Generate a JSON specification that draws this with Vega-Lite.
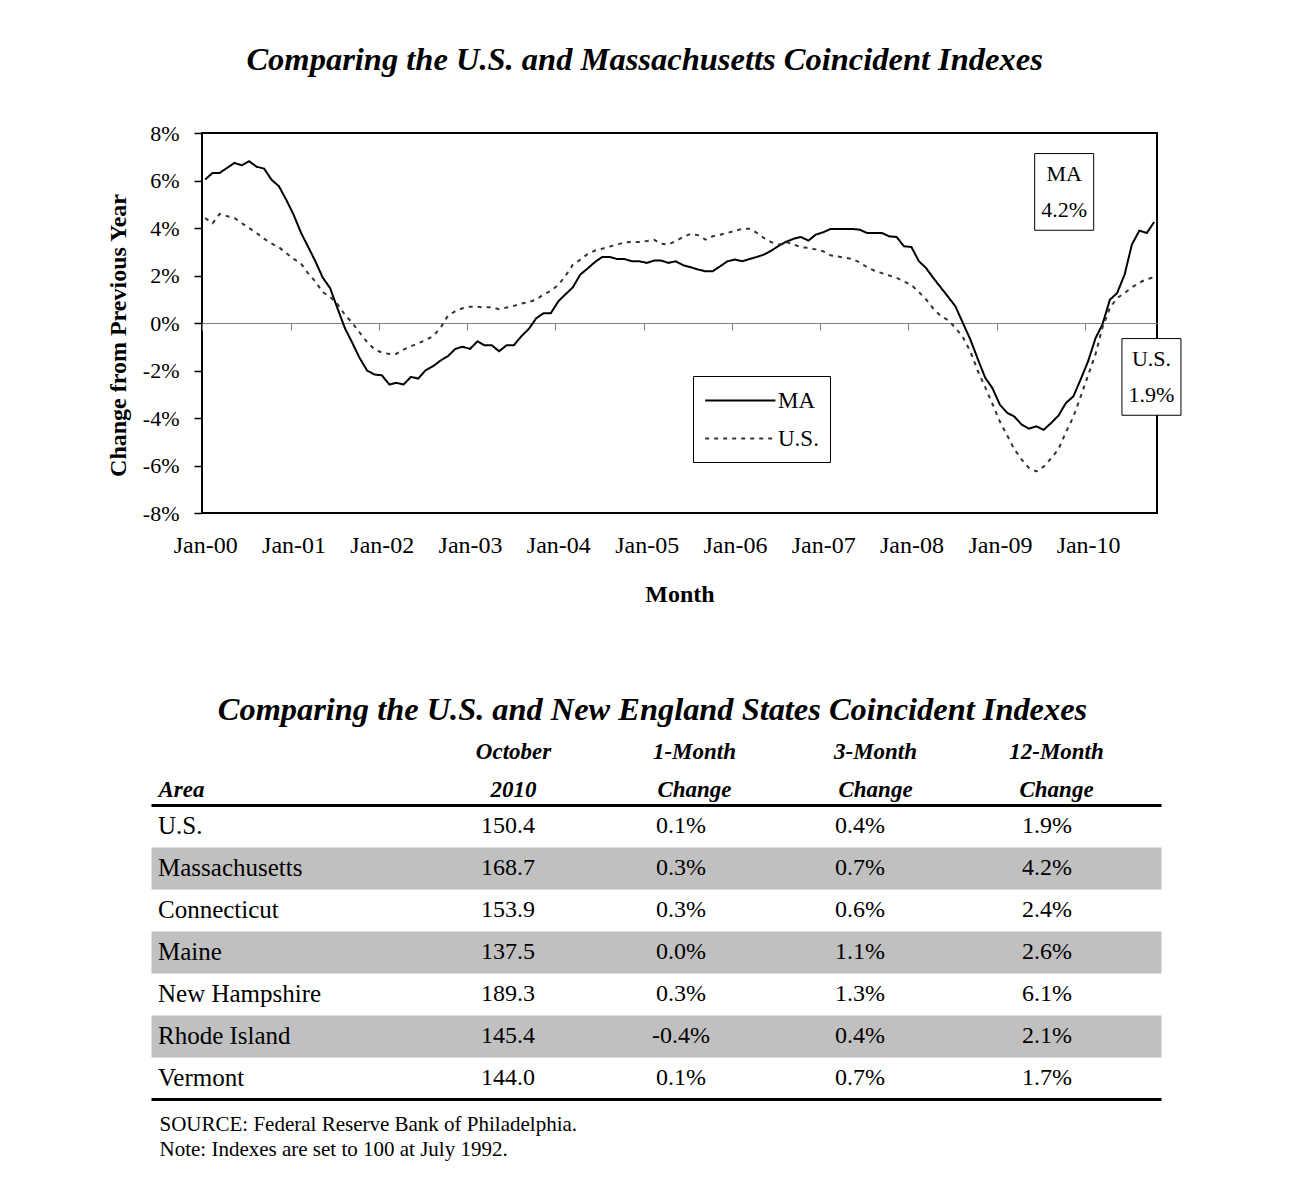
{
  "$schema": "https://vega.github.io/schema/vega-lite/v6.json",
  "background": "white",
  "padding": {"left": 105, "top": 42, "right": 5, "bottom": 5},
  "spacing": 86,
  "config": {
    "font": "Liberation Serif",
    "view": {"stroke": null},
    "locale": {"number": {"decimal": ".", "thousands": ",", "grouping": [3], "currency": ["$", ""], "minus": "-"}},
    "axis": {"labelColor": "black", "titleColor": "black", "domainColor": "black", "tickColor": "black"},
    "title": {"color": "black"}
  },
  "datasets": {
    "series": [
      {"series":"MA","date":"2000-01","value":6.04},{"series":"MA","date":"2000-02","value":6.32},{"series":"MA","date":"2000-03","value":6.32},{"series":"MA","date":"2000-04","value":6.53},{"series":"MA","date":"2000-05","value":6.74},{"series":"MA","date":"2000-06","value":6.64},{"series":"MA","date":"2000-07","value":6.81},{"series":"MA","date":"2000-08","value":6.58},{"series":"MA","date":"2000-09","value":6.5},{"series":"MA","date":"2000-10","value":6.04},{"series":"MA","date":"2000-11","value":5.76},{"series":"MA","date":"2000-12","value":5.2},
      {"series":"MA","date":"2001-01","value":4.56},{"series":"MA","date":"2001-02","value":3.79},{"series":"MA","date":"2001-03","value":3.23},{"series":"MA","date":"2001-04","value":2.6},{"series":"MA","date":"2001-05","value":1.92},{"series":"MA","date":"2001-06","value":1.47},{"series":"MA","date":"2001-07","value":0.63},{"series":"MA","date":"2001-08","value":-0.21},{"series":"MA","date":"2001-09","value":-0.84},{"series":"MA","date":"2001-10","value":-1.47},{"series":"MA","date":"2001-11","value":-2.0},{"series":"MA","date":"2001-12","value":-2.17},
      {"series":"MA","date":"2002-01","value":-2.2},{"series":"MA","date":"2002-02","value":-2.59},{"series":"MA","date":"2002-03","value":-2.52},{"series":"MA","date":"2002-04","value":-2.59},{"series":"MA","date":"2002-05","value":-2.27},{"series":"MA","date":"2002-06","value":-2.34},{"series":"MA","date":"2002-07","value":-1.99},{"series":"MA","date":"2002-08","value":-1.82},{"series":"MA","date":"2002-09","value":-1.58},{"series":"MA","date":"2002-10","value":-1.4},{"series":"MA","date":"2002-11","value":-1.09},{"series":"MA","date":"2002-12","value":-1.0},
      {"series":"MA","date":"2003-01","value":-1.09},{"series":"MA","date":"2003-02","value":-0.77},{"series":"MA","date":"2003-03","value":-0.94},{"series":"MA","date":"2003-04","value":-0.94},{"series":"MA","date":"2003-05","value":-1.19},{"series":"MA","date":"2003-06","value":-0.94},{"series":"MA","date":"2003-07","value":-0.94},{"series":"MA","date":"2003-08","value":-0.56},{"series":"MA","date":"2003-09","value":-0.25},{"series":"MA","date":"2003-10","value":0.19},{"series":"MA","date":"2003-11","value":0.41},{"series":"MA","date":"2003-12","value":0.41},
      {"series":"MA","date":"2004-01","value":0.91},{"series":"MA","date":"2004-02","value":1.22},{"series":"MA","date":"2004-03","value":1.5},{"series":"MA","date":"2004-04","value":2.04},{"series":"MA","date":"2004-05","value":2.29},{"series":"MA","date":"2004-06","value":2.57},{"series":"MA","date":"2004-07","value":2.78},{"series":"MA","date":"2004-08","value":2.78},{"series":"MA","date":"2004-09","value":2.69},{"series":"MA","date":"2004-10","value":2.69},{"series":"MA","date":"2004-11","value":2.6},{"series":"MA","date":"2004-12","value":2.6},
      {"series":"MA","date":"2005-01","value":2.53},{"series":"MA","date":"2005-02","value":2.63},{"series":"MA","date":"2005-03","value":2.63},{"series":"MA","date":"2005-04","value":2.53},{"series":"MA","date":"2005-05","value":2.6},{"series":"MA","date":"2005-06","value":2.43},{"series":"MA","date":"2005-07","value":2.35},{"series":"MA","date":"2005-08","value":2.25},{"series":"MA","date":"2005-09","value":2.18},{"series":"MA","date":"2005-10","value":2.18},{"series":"MA","date":"2005-11","value":2.39},{"series":"MA","date":"2005-12","value":2.6},
      {"series":"MA","date":"2006-01","value":2.67},{"series":"MA","date":"2006-02","value":2.6},{"series":"MA","date":"2006-03","value":2.69},{"series":"MA","date":"2006-04","value":2.78},{"series":"MA","date":"2006-05","value":2.88},{"series":"MA","date":"2006-06","value":3.05},{"series":"MA","date":"2006-07","value":3.25},{"series":"MA","date":"2006-08","value":3.42},{"series":"MA","date":"2006-09","value":3.55},{"series":"MA","date":"2006-10","value":3.62},{"series":"MA","date":"2006-11","value":3.47},{"series":"MA","date":"2006-12","value":3.72},
      {"series":"MA","date":"2007-01","value":3.82},{"series":"MA","date":"2007-02","value":3.96},{"series":"MA","date":"2007-03","value":3.96},{"series":"MA","date":"2007-04","value":3.96},{"series":"MA","date":"2007-05","value":3.96},{"series":"MA","date":"2007-06","value":3.93},{"series":"MA","date":"2007-07","value":3.79},{"series":"MA","date":"2007-08","value":3.79},{"series":"MA","date":"2007-09","value":3.79},{"series":"MA","date":"2007-10","value":3.65},{"series":"MA","date":"2007-11","value":3.62},{"series":"MA","date":"2007-12","value":3.23},
      {"series":"MA","date":"2008-01","value":3.2},{"series":"MA","date":"2008-02","value":2.6},{"series":"MA","date":"2008-03","value":2.32},{"series":"MA","date":"2008-04","value":1.89},{"series":"MA","date":"2008-05","value":1.5},{"series":"MA","date":"2008-06","value":1.1},{"series":"MA","date":"2008-07","value":0.7},{"series":"MA","date":"2008-08","value":0.0},{"series":"MA","date":"2008-09","value":-0.7},{"series":"MA","date":"2008-10","value":-1.5},{"series":"MA","date":"2008-11","value":-2.3},{"series":"MA","date":"2008-12","value":-2.74},
      {"series":"MA","date":"2009-01","value":-3.44},{"series":"MA","date":"2009-02","value":-3.79},{"series":"MA","date":"2009-03","value":-3.93},{"series":"MA","date":"2009-04","value":-4.28},{"series":"MA","date":"2009-05","value":-4.45},{"series":"MA","date":"2009-06","value":-4.35},{"series":"MA","date":"2009-07","value":-4.5},{"series":"MA","date":"2009-08","value":-4.21},{"series":"MA","date":"2009-09","value":-3.89},{"series":"MA","date":"2009-10","value":-3.37},{"series":"MA","date":"2009-11","value":-3.09},{"series":"MA","date":"2009-12","value":-2.38},
      {"series":"MA","date":"2010-01","value":-1.61},{"series":"MA","date":"2010-02","value":-0.63},{"series":"MA","date":"2010-03","value":-0.07},{"series":"MA","date":"2010-04","value":0.98},{"series":"MA","date":"2010-05","value":1.26},{"series":"MA","date":"2010-06","value":2.04},{"series":"MA","date":"2010-07","value":3.3},{"series":"MA","date":"2010-08","value":3.89},{"series":"MA","date":"2010-09","value":3.79},{"series":"MA","date":"2010-10","value":4.25},
      {"series":"U.S.","date":"2000-01","value":4.42},{"series":"U.S.","date":"2000-02","value":4.2},{"series":"U.S.","date":"2000-03","value":4.59},{"series":"U.S.","date":"2000-04","value":4.5},{"series":"U.S.","date":"2000-05","value":4.42},{"series":"U.S.","date":"2000-06","value":4.2},{"series":"U.S.","date":"2000-07","value":4.0},{"series":"U.S.","date":"2000-08","value":3.79},{"series":"U.S.","date":"2000-09","value":3.55},{"series":"U.S.","date":"2000-10","value":3.35},{"series":"U.S.","date":"2000-11","value":3.19},{"series":"U.S.","date":"2000-12","value":2.95},
      {"series":"U.S.","date":"2001-01","value":2.7},{"series":"U.S.","date":"2001-02","value":2.5},{"series":"U.S.","date":"2001-03","value":2.1},{"series":"U.S.","date":"2001-04","value":1.75},{"series":"U.S.","date":"2001-05","value":1.3},{"series":"U.S.","date":"2001-06","value":1.1},{"series":"U.S.","date":"2001-07","value":0.8},{"series":"U.S.","date":"2001-08","value":0.35},{"series":"U.S.","date":"2001-09","value":0.0},{"series":"U.S.","date":"2001-10","value":-0.4},{"series":"U.S.","date":"2001-11","value":-0.8},{"series":"U.S.","date":"2001-12","value":-1.1},
      {"series":"U.S.","date":"2002-01","value":-1.25},{"series":"U.S.","date":"2002-02","value":-1.3},{"series":"U.S.","date":"2002-03","value":-1.3},{"series":"U.S.","date":"2002-04","value":-1.12},{"series":"U.S.","date":"2002-05","value":-0.98},{"series":"U.S.","date":"2002-06","value":-0.85},{"series":"U.S.","date":"2002-07","value":-0.72},{"series":"U.S.","date":"2002-08","value":-0.55},{"series":"U.S.","date":"2002-09","value":-0.2},{"series":"U.S.","date":"2002-10","value":0.3},{"series":"U.S.","date":"2002-11","value":0.5},{"series":"U.S.","date":"2002-12","value":0.62},
      {"series":"U.S.","date":"2003-01","value":0.68},{"series":"U.S.","date":"2003-02","value":0.68},{"series":"U.S.","date":"2003-03","value":0.66},{"series":"U.S.","date":"2003-04","value":0.66},{"series":"U.S.","date":"2003-05","value":0.58},{"series":"U.S.","date":"2003-06","value":0.65},{"series":"U.S.","date":"2003-07","value":0.72},{"series":"U.S.","date":"2003-08","value":0.82},{"series":"U.S.","date":"2003-09","value":0.88},{"series":"U.S.","date":"2003-10","value":0.98},{"series":"U.S.","date":"2003-11","value":1.2},{"series":"U.S.","date":"2003-12","value":1.35},
      {"series":"U.S.","date":"2004-01","value":1.6},{"series":"U.S.","date":"2004-02","value":2.0},{"series":"U.S.","date":"2004-03","value":2.45},{"series":"U.S.","date":"2004-04","value":2.67},{"series":"U.S.","date":"2004-05","value":2.9},{"series":"U.S.","date":"2004-06","value":3.05},{"series":"U.S.","date":"2004-07","value":3.13},{"series":"U.S.","date":"2004-08","value":3.22},{"series":"U.S.","date":"2004-09","value":3.3},{"series":"U.S.","date":"2004-10","value":3.4},{"series":"U.S.","date":"2004-11","value":3.41},{"series":"U.S.","date":"2004-12","value":3.41},
      {"series":"U.S.","date":"2005-01","value":3.45},{"series":"U.S.","date":"2005-02","value":3.5},{"series":"U.S.","date":"2005-03","value":3.34},{"series":"U.S.","date":"2005-04","value":3.3},{"series":"U.S.","date":"2005-05","value":3.45},{"series":"U.S.","date":"2005-06","value":3.62},{"series":"U.S.","date":"2005-07","value":3.75},{"series":"U.S.","date":"2005-08","value":3.7},{"series":"U.S.","date":"2005-09","value":3.51},{"series":"U.S.","date":"2005-10","value":3.65},{"series":"U.S.","date":"2005-11","value":3.72},{"series":"U.S.","date":"2005-12","value":3.79},
      {"series":"U.S.","date":"2006-01","value":3.88},{"series":"U.S.","date":"2006-02","value":3.97},{"series":"U.S.","date":"2006-03","value":3.97},{"series":"U.S.","date":"2006-04","value":3.8},{"series":"U.S.","date":"2006-05","value":3.58},{"series":"U.S.","date":"2006-06","value":3.4},{"series":"U.S.","date":"2006-07","value":3.3},{"series":"U.S.","date":"2006-08","value":3.41},{"series":"U.S.","date":"2006-09","value":3.3},{"series":"U.S.","date":"2006-10","value":3.19},{"series":"U.S.","date":"2006-11","value":3.16},{"series":"U.S.","date":"2006-12","value":3.1},
      {"series":"U.S.","date":"2007-01","value":3.02},{"series":"U.S.","date":"2007-02","value":2.85},{"series":"U.S.","date":"2007-03","value":2.8},{"series":"U.S.","date":"2007-04","value":2.75},{"series":"U.S.","date":"2007-05","value":2.7},{"series":"U.S.","date":"2007-06","value":2.55},{"series":"U.S.","date":"2007-07","value":2.35},{"series":"U.S.","date":"2007-08","value":2.2},{"series":"U.S.","date":"2007-09","value":2.1},{"series":"U.S.","date":"2007-10","value":2.0},{"series":"U.S.","date":"2007-11","value":1.9},{"series":"U.S.","date":"2007-12","value":1.75},
      {"series":"U.S.","date":"2008-01","value":1.6},{"series":"U.S.","date":"2008-02","value":1.3},{"series":"U.S.","date":"2008-03","value":1.0},{"series":"U.S.","date":"2008-04","value":0.6},{"series":"U.S.","date":"2008-05","value":0.3},{"series":"U.S.","date":"2008-06","value":0.12},{"series":"U.S.","date":"2008-07","value":-0.2},{"series":"U.S.","date":"2008-08","value":-0.6},{"series":"U.S.","date":"2008-09","value":-1.2},{"series":"U.S.","date":"2008-10","value":-2.0},{"series":"U.S.","date":"2008-11","value":-2.7},{"series":"U.S.","date":"2008-12","value":-3.4},
      {"series":"U.S.","date":"2009-01","value":-4.15},{"series":"U.S.","date":"2009-02","value":-4.75},{"series":"U.S.","date":"2009-03","value":-5.3},{"series":"U.S.","date":"2009-04","value":-5.75},{"series":"U.S.","date":"2009-05","value":-6.1},{"series":"U.S.","date":"2009-06","value":-6.25},{"series":"U.S.","date":"2009-07","value":-6.05},{"series":"U.S.","date":"2009-08","value":-5.7},{"series":"U.S.","date":"2009-09","value":-5.3},{"series":"U.S.","date":"2009-10","value":-4.6},{"series":"U.S.","date":"2009-11","value":-3.95},{"series":"U.S.","date":"2009-12","value":-3.1},
      {"series":"U.S.","date":"2010-01","value":-2.2},{"series":"U.S.","date":"2010-02","value":-1.3},{"series":"U.S.","date":"2010-03","value":-0.2},{"series":"U.S.","date":"2010-04","value":0.63},{"series":"U.S.","date":"2010-05","value":1.05},{"series":"U.S.","date":"2010-06","value":1.26},{"series":"U.S.","date":"2010-07","value":1.5},{"series":"U.S.","date":"2010-08","value":1.7},{"series":"U.S.","date":"2010-09","value":1.85},{"series":"U.S.","date":"2010-10","value":1.92}
    ],
    "notes": [
      {"date": "2009-09-24", "value": 5.52, "label": ["MA", "4.2%"]},
      {"date": "2010-09-20", "value": -2.27, "label": ["U.S.", "1.9%"]}
    ],
    "table": [
      {"area": "U.S.", "index": 150.4, "m1": 0.001, "m3": 0.004, "m12": 0.019},
      {"area": "Massachusetts", "index": 168.7, "m1": 0.003, "m3": 0.007, "m12": 0.042},
      {"area": "Connecticut", "index": 153.9, "m1": 0.003, "m3": 0.006, "m12": 0.024},
      {"area": "Maine", "index": 137.5, "m1": 0.0, "m3": 0.011, "m12": 0.026},
      {"area": "New Hampshire", "index": 189.3, "m1": 0.003, "m3": 0.013, "m12": 0.061},
      {"area": "Rhode Island", "index": 145.4, "m1": -0.004, "m3": 0.004, "m12": 0.021},
      {"area": "Vermont", "index": 144.0, "m1": 0.001, "m3": 0.007, "m12": 0.017}
    ]
  },
  "vconcat": [
    {
      "width": 955,
      "height": 380,
      "title": {"text": "Comparing the U.S. and Massachusetts Coincident Indexes", "fontSize": 32.5, "fontWeight": "bold", "fontStyle": "italic", "anchor": "middle", "frame": "bounds", "offset": 46},
      "view": {"stroke": "black", "strokeWidth": 2},
      "encoding": {
        "y": {
          "field": "value", "type": "quantitative",
          "scale": {"domain": [-8, 8], "nice": false},
          "axis": {"values": [-8, -6, -4, -2, 0, 2, 4, 6, 8], "labelExpr": "datum.value + '%'", "labelFontSize": 22, "labelPadding": 15, "tickSize": 8, "tickWidth": 1.5, "domain": false, "grid": false, "title": "Change from Previous Year", "titleFontSize": 24, "titleFontWeight": "bold", "titlePadding": 12, "titleY": 202}
        }
      },
      "layer": [
        {
          "data": {"name": "series"},
          "mark": {"type": "line", "strokeWidth": 2},
          "encoding": {
            "x": {
              "field": "date", "type": "temporal",
              "scale": {"type": "utc", "domain": ["1999-12-19", "2010-10-13"]},
              "axis": {"orient": "bottom", "format": "%b-%y", "tickCount": {"interval": "year", "step": 1}, "labelFontSize": 24, "labelPadding": 20, "ticks": false, "domain": false, "grid": false, "labelFlush": false, "labelOverlap": false, "title": "Month", "titleFontSize": 24, "titleFontWeight": "bold", "titlePadding": 25}
            },
            "color": {
              "field": "series", "type": "nominal",
              "scale": {"domain": ["MA", "U.S."], "range": ["#000000", "#333333"]},
              "legend": {"orient": "none", "legendX": 491, "legendY": 243, "title": null, "strokeColor": "black", "fillColor": "white", "padding": 11, "symbolType": "M-1,0L4.7,0", "symbolSize": 608, "symbolStrokeWidth": 2, "labelFontSize": 23, "labelOffset": 47, "rowPadding": 12, "labelColor": "black"}
            },
            "strokeDash": {
              "field": "series", "type": "nominal",
              "scale": {"domain": ["MA", "U.S."], "range": [[1, 0], [4, 5]]},
              "legend": {"orient": "none", "legendX": 491, "legendY": 243, "title": null, "strokeColor": "black", "fillColor": "white", "padding": 11, "symbolType": "M-1,0L4.7,0", "symbolSize": 608, "symbolStrokeWidth": 2, "labelFontSize": 23, "labelOffset": 47, "rowPadding": 12, "labelColor": "black"}
            }
          }
        },
        {
          "data": {"name": "notes"},
          "mark": {"type": "point", "shape": "M-1,-1.3L1,-1.3L1,1.3L-1,1.3Z", "fill": "white", "fillOpacity": 1, "stroke": "black", "strokeWidth": 1, "opacity": 1, "size": 3481},
          "encoding": {
            "x": {"field": "date", "type": "temporal", "axis": {"orient": "bottom", "offset": -190, "labels": false, "ticks": true, "tickSize": 7, "tickColor": "#808080", "tickOffset": -3, "domainColor": "#808080", "domainWidth": 1, "grid": false, "title": null, "tickCount": {"interval": "year", "step": 1}}}
          }
        },
        {
          "data": {"name": "notes"},
          "mark": {"type": "text", "fontSize": 22, "lineHeight": 36, "baseline": "middle", "align": "center", "dy": -18, "color": "black"},
          "encoding": {
            "x": {"field": "date", "type": "temporal", "axis": null},
            "text": {"field": "label"}
          }
        }
      ],
      "resolve": {"axis": {"x": "independent"}}
    },
    {
      "width": 959,
      "height": 294,
      "title": {"text": "Comparing the U.S. and New England States Coincident Indexes", "fontSize": 32.4, "fontWeight": "bold", "fontStyle": "italic", "anchor": "middle", "frame": "group", "dx": -29, "offset": 14},
      "data": {"name": "table"},
      "encoding": {
        "y": {
          "field": "area", "type": "nominal", "sort": null,
          "scale": {"paddingInner": 0, "paddingOuter": 0},
          "axis": {"orient": "left", "labels": false, "ticks": false, "domain": false, "grid": true, "gridWidth": 42, "gridOpacity": 1, "gridColor": {"condition": {"test": "indexof(['Massachusetts','Maine','Rhode Island'], datum.value) >= 0", "value": "#c0c0c0"}, "value": "transparent"}, "title": null}
        }
      },
      "layer": [
        {
          "mark": {"type": "text", "align": "left", "baseline": "middle", "dx": 7, "fontSize": 25},
          "encoding": {
            "x": {
              "datum": "Area", "type": "nominal",
              "scale": {"type": "point", "domain": ["Area", "_", "October 2010", "1-Month Change", "3-Month Change", "12-Month Change"], "range": [-51, 959], "padding": 0.29, "align": 0},
              "axis": {"orient": "top", "labelAngle": 0, "labelExpr": "datum.label == 'Area' ? ['', 'Area'] : datum.label == '_' ? '' : split(datum.label, ' ')", "labelAlign": {"condition": {"test": "datum.value == 'Area'", "value": "left"}, "value": "center"}, "labelOffset": {"condition": {"test": "datum.value == 'Area'", "value": 7}, "value": 0}, "labelBaseline": "bottom", "labelFontSize": 23, "labelFontWeight": "bold", "labelFontStyle": "italic", "labelLineHeight": 38, "labelPadding": 42, "labelOverlap": false, "labelFlush": false, "labelBound": false, "labelLimit": 0, "ticks": false, "domain": true, "domainWidth": 3, "grid": false, "title": null}
            },
            "text": {"field": "area"}
          }
        },
        {
          "mark": {"type": "text", "align": "center", "baseline": "middle", "dx": -5, "fontSize": 24},
          "encoding": {
            "x": {"datum": "October 2010", "type": "nominal", "axis": {"orient": "bottom", "labels": false, "ticks": false, "domain": true, "domainWidth": 3, "grid": false, "title": ["SOURCE: Federal Reserve Bank of Philadelphia.", "Note: Indexes are set to 100 at July 1992."], "titleAnchor": "start", "titleAlign": "left", "titleX": -43, "titleFontSize": 21, "titleFontWeight": "normal", "titleLineHeight": 25, "titlePadding": 14}},
            "text": {"field": "index", "format": ".1f"}
          }
        },
        {
          "mark": {"type": "text", "align": "center", "baseline": "middle", "dx": -13, "fontSize": 24},
          "encoding": {
            "x": {"datum": "1-Month Change", "type": "nominal", "axis": null},
            "text": {"field": "m1", "format": ".1%"}
          }
        },
        {
          "mark": {"type": "text", "align": "center", "baseline": "middle", "dx": -15, "fontSize": 24},
          "encoding": {
            "x": {"datum": "3-Month Change", "type": "nominal", "axis": null},
            "text": {"field": "m3", "format": ".1%"}
          }
        },
        {
          "mark": {"type": "text", "align": "center", "baseline": "middle", "dx": -9, "fontSize": 24},
          "encoding": {
            "x": {"datum": "12-Month Change", "type": "nominal", "axis": null},
            "text": {"field": "m12", "format": ".1%"}
          }
        }
      ],
      "resolve": {"axis": {"x": "independent"}}
    }
  ]
}
